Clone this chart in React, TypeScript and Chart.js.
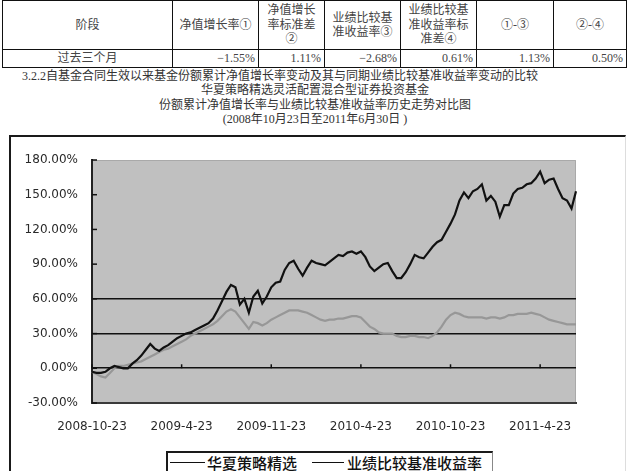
import React, { useEffect, useRef } from "react";
import { Chart, registerables } from "chart.js";

Chart.register(...registerables);

// ---------- DATA ----------
const tableHeaders = [
  "阶段",
  "净值增长率①",
  "净值增长\n率标准差\n②",
  "业绩比较基\n准收益率③",
  "业绩比较基\n准收益率标\n准差④",
  "①-③",
  "②-④",
];
const tableRowLabel = "过去三个月";
const tableRowValues = ["−1.55%", "1.11%", "−2.68%", "0.61%", "1.13%", "0.50%"];

const captionLines = [
  "3.2.2自基金合同生效以来基金份额累计净值增长率变动及其与同期业绩比较基准收益率变动的比较",
  "华夏策略精选灵活配置混合型证券投资基金",
  "份额累计净值增长率与业绩比较基准收益率历史走势对比图",
  "(2008年10月23日至2011年6月30日 )",
];

const seriesNames = ["华夏策略精选", "业绩比较基准收益率"];

const tickLabels = ["2008-10-23", "2009-4-23", "2009-11-23", "2010-4-23", "2010-10-23", "2011-4-23"];
const pointsPerTick = 20;

const fundValues = [
  -3, -4, -4, -3, 0, 2, 1, 0, 0, 4,
  7, 11, 16, 21, 17, 15, 18, 20, 23, 26,
  28, 30, 31, 33, 35, 37, 39, 43, 50, 58,
  66, 72, 70, 55, 60, 48, 62, 67, 56, 62,
  70, 74, 75, 85, 91, 93, 86, 80, 87, 93,
  91, 90, 89, 92, 95, 98, 97, 100, 101, 99,
  101, 96, 88, 84, 87, 90, 91, 84, 78, 78,
  83, 90, 98, 96, 95, 100, 105, 109, 111, 118,
  125, 133, 145, 152, 147, 153, 155, 159, 145, 149,
  144, 131, 141, 141, 151, 155, 156, 159, 160, 164,
  170, 160, 163, 164, 155, 147, 145, 138, 153,
];

const benchValues = [
  -3, -5, -7, -8, -4, 0, 2, 2, 3, 4,
  5, 6, 8, 10, 12, 14, 16, 17, 19, 21,
  23, 25, 28, 30, 32, 34, 36, 38, 41, 45,
  49, 51, 49, 44, 39, 34, 40, 39, 37, 39,
  42, 44, 46, 48, 50, 50, 50, 49, 48, 46,
  44, 42, 41, 42, 42, 43, 43, 44, 45, 45,
  44, 40, 36, 34, 31, 30, 30, 30, 28, 27,
  27, 28, 28, 27, 27, 26, 28, 31, 36, 42,
  46, 48, 47, 45, 44, 44, 44, 44, 43, 44,
  44, 43, 44, 46, 46, 47, 47, 47, 48, 47,
  46, 44, 42, 41, 40, 39, 38, 38, 38,
];

const yMin = -30;
const yMax = 180;
const yStep = 30;
const gridValues = [0, 30, 60];

// ---------- STYLE ----------
const serif = "'Liberation Serif', 'Noto Sans CJK SC', serif";
const axisFont = { family: "'DejaVu Sans', sans-serif", size: 12 };
const colWidths = [170, 86, 66, 76, 76, 77, 73];

const labels = fundValues.map((_, i) =>
  i % pointsPerTick === 0 ? tickLabels[i / pointsPerTick] ?? "" : ""
);

const plotDecor = {
  id: "plotDecor",
  beforeDraw(chart: any) {
    const { ctx, chartArea: a } = chart;
    ctx.save();
    ctx.fillStyle = "#c0c0c0";
    ctx.fillRect(a.left, a.top, a.right - a.left, a.bottom - a.top);
    ctx.strokeStyle = "#a9a9a9";
    ctx.lineWidth = 1;
    ctx.beginPath();
    ctx.moveTo(a.left, a.top + 0.5);
    ctx.lineTo(a.right - 0.5, a.top + 0.5);
    ctx.lineTo(a.right - 0.5, a.bottom);
    ctx.stroke();
    ctx.restore();
  },
  beforeDatasetsDraw(chart: any) {
    const { ctx, chartArea: a, scales } = chart;
    const y = scales.y;
    const x = scales.x;
    ctx.save();
    ctx.strokeStyle = "#111";
    ctx.lineWidth = 1.5;
    // inner tick marks on the value axis
    for (let v = yMin; v <= yMax; v += yStep) {
      const py = y.getPixelForValue(v);
      ctx.beginPath();
      ctx.moveTo(a.left, py);
      ctx.lineTo(a.left + 5, py);
      ctx.stroke();
    }
    // tick marks on the 0% line at category label positions
    const y0 = y.getPixelForValue(0);
    labels.forEach((l, i) => {
      if (!l) return;
      const px = x.getPixelForValue(i);
      ctx.beginPath();
      ctx.moveTo(px, y0);
      ctx.lineTo(px, y0 - 4);
      ctx.stroke();
    });
    ctx.restore();
  },
};

function LineChart() {
  const ref = useRef<HTMLCanvasElement | null>(null);
  useEffect(() => {
    if (!ref.current) return;
    const chart = new Chart(ref.current, {
      type: "line",
      data: {
        labels,
        datasets: [
          {
            label: seriesNames[0],
            data: fundValues,
            borderColor: "#111111",
            borderWidth: 2.2,
            pointRadius: 0,
            tension: 0,
          },
          {
            label: seriesNames[1],
            data: benchValues,
            borderColor: "#979797",
            borderWidth: 2.2,
            pointRadius: 0,
            tension: 0,
          },
        ],
      },
      options: {
        animation: false,
        responsive: false,
        layout: { padding: { left: 0, top: 22, right: 50, bottom: 0 } },
        plugins: {
          legend: { display: false },
          tooltip: { enabled: false },
        },
        scales: {
          x: {
            type: "category",
            offset: false,
            grid: { display: false, drawTicks: false },
            border: { display: true, color: "#3a3a3a", width: 2 },
            ticks: {
              autoSkip: false,
              maxRotation: 0,
              minRotation: 0,
              padding: 17,
              color: "#2a2a2a",
              font: axisFont,
              callback: (_v: any, i: number) => (labels[i] ? labels[i] : null),
            },
            afterFit: (s: any) => {
              s.height = 47;
            },
          },
          y: {
            min: yMin,
            max: yMax,
            ticks: {
              stepSize: yStep,
              padding: 14,
              color: "#2a2a2a",
              font: axisFont,
              callback: (v: any) => Number(v).toFixed(2) + "%",
            },
            grid: {
              drawTicks: false,
              lineWidth: 1.6,
              color: (c: any) =>
                c.tick && gridValues.includes(c.tick.value) ? "#111111" : "rgba(0,0,0,0)",
            },
            border: { display: true, color: "#222222", width: 2 },
            afterFit: (s: any) => {
              s.width = 81;
            },
          },
        },
      },
      plugins: [plotDecor],
    });
    return () => chart.destroy();
  }, []);
  return (
    <canvas
      ref={ref}
      width={615}
      height={312}
      style={{ position: "absolute", left: 11, top: 138, width: 615, height: 312 }}
    />
  );
}

export default function App() {
  const cell: React.CSSProperties = {
    border: "1px solid #111",
    padding: "0 3px",
    fontSize: 12,
    lineHeight: "14.5px",
    color: "#444",
    fontFamily: serif,
  };
  return (
    <div
      style={{
        position: "absolute",
        left: 0,
        top: 0,
        width: 637,
        height: 471,
        background: "#fff",
        overflow: "hidden",
        fontFamily: serif,
      }}
    >
      <table
        style={{
          position: "absolute",
          left: 2,
          top: 0,
          borderCollapse: "collapse",
          tableLayout: "fixed",
          width: colWidths.reduce((a, b) => a + b, 0),
        }}
      >
        <colgroup>
          {colWidths.map((w, i) => (
            <col key={i} style={{ width: w }} />
          ))}
        </colgroup>
        <tbody>
          <tr style={{ height: 49 }}>
            {tableHeaders.map((h, i) => (
              <td key={i} style={{ ...cell, textAlign: "center", whiteSpace: "pre-line", verticalAlign: "middle" }}>
                {h}
              </td>
            ))}
          </tr>
          <tr style={{ height: 18 }}>
            <td style={{ ...cell, textAlign: "center" }}>{tableRowLabel}</td>
            {tableRowValues.map((v, i) => (
              <td key={i} style={{ ...cell, textAlign: "right" }}>
                {v}
              </td>
            ))}
          </tr>
        </tbody>
      </table>

      <div style={{ position: "absolute", left: 22, top: 69, fontSize: 12, lineHeight: "14px", color: "#333", whiteSpace: "nowrap" }}>
        {captionLines[0]}
      </div>
      {captionLines.slice(1).map((t, i) => (
        <div
          key={i}
          style={{
            position: "absolute",
            left: 0,
            width: 630,
            top: 83 + i * 14.5,
            textAlign: "center",
            fontSize: 12,
            lineHeight: "14px",
            color: "#333",
            whiteSpace: "nowrap",
          }}
        >
          {t}
        </div>
      ))}

      <div
        style={{
          position: "absolute",
          left: 9,
          top: 135,
          width: 617,
          height: 360,
          borderTop: "2px solid #1a1a1a",
          borderLeft: "2px solid #1a1a1a",
          borderRight: "1px solid #dddddd",
          boxSizing: "border-box",
        }}
      />
      <LineChart />

      <div
        style={{
          position: "absolute",
          left: 166,
          top: 451,
          width: 327,
          height: 40,
          borderTop: "2px solid #1a1a1a",
          borderLeft: "2px solid #1a1a1a",
          borderRight: "1px solid #888",
          boxSizing: "border-box",
          background: "#fff",
        }}
      />
      {[
        { lineLeft: 170, lineWidth: 35, textLeft: 207, name: seriesNames[0] },
        { lineLeft: 312, lineWidth: 32, textLeft: 347, name: seriesNames[1] },
      ].map((it, i) => (
        <React.Fragment key={i}>
          <div
            style={{
              position: "absolute",
              left: it.lineLeft,
              top: 462,
              width: it.lineWidth,
              height: 0,
              borderTop: "1.5px solid #111",
            }}
          />
          <div
            style={{
              position: "absolute",
              left: it.textLeft,
              top: 453,
              fontFamily: "'Noto Sans CJK SC', sans-serif",
              fontSize: 15,
              lineHeight: "20px",
              fontWeight: 500,
              color: "#111",
              whiteSpace: "nowrap",
            }}
          >
            {it.name}
          </div>
        </React.Fragment>
      ))}
    </div>
  );
}
